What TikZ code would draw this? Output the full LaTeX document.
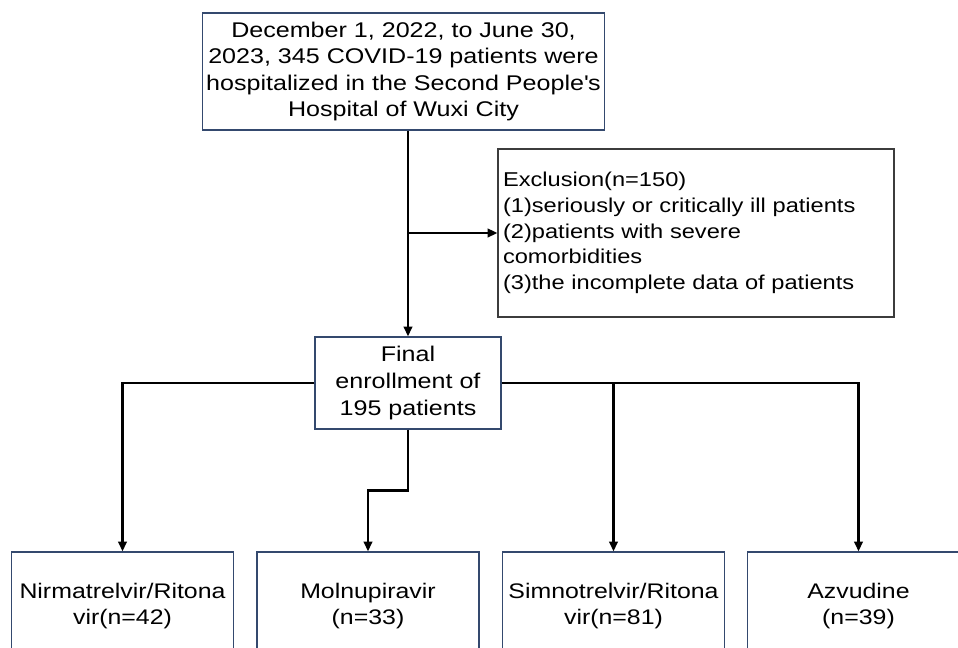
\documentclass[tikz,border=0pt]{standalone}
\usepackage{fontspec}
\setmainfont{Liberation Sans}[FakeStretch=1.18]
\usetikzlibrary{calc}
\usetikzlibrary{arrows.meta}
\definecolor{boxblue}{RGB}{52,73,110}
\definecolor{exgray}{RGB}{60,60,60}

\begin{document}
\begin{tikzpicture}[
		x=0.02cm, y=-0.02cm,
		t/.style = {rectangle, draw=boxblue, line width=0.75pt, align=center, inner sep=2pt, font=\fontsize{12.1}{15.1}\selectfont},
		ex/.style = {rectangle, draw=exgray, line width=0.75pt, align=left, text width=7.72cm, inner xsep=0.1cm, minimum height=3.36cm, font=\fontsize{11.4}{14.7}\selectfont},
		g/.style = {t, minimum width=4.44cm, minimum height=2.16cm, font=\fontsize{12}{14.8}\selectfont},
		r/.style = {-{Triangle[length=5.5pt, width=4.8pt]}, line width=1.6pt}
		]
		\useasboundingbox (0,0) rectangle (958,648);
		\clip (0,0) rectangle (958,648);
		
		%Nodes
		\node[t, minimum width=7.86cm, minimum height=2.34cm]	(top)	at	(403.5, 71.5)	{December 1, 2022, to June 30,\\2023, 345 COVID-19 patients were\\hospitalized in the Second People\textquotesingle s\\Hospital of Wuxi City};
		\node[ex]	(excl)	at	(696, 233)	{Exclusion(n=150)\\(1)seriously or critically ill patients\\(2)patients with severe\\comorbidities\\(3)the incomplete data of patients};
		\node[t, minimum width=3.72cm, minimum height=1.84cm]	(final)	at	(408, 383)	{Final\\enrollment of\\195 patients};
		\node[g]	(nir)	at	(122.5, 606)	{Nirmatrelvir/Ritona\\vir(n=42)};
		\node[g]	(mol)	at	(368, 606)		{Molnupiravir\\(n=33)};
		\node[g]	(sim)	at	(613.5, 606)	{Simnotrelvir/Ritona\\vir(n=81)};
		\node[g]	(azv)	at	(858.5, 606)	{Azvudine\\(n=39)};
		\coordinate	(bend)	at	($(final.south)!.5!(mol.north)$);
		
		%Lines
		\draw[r]	(top.south -| final.north)	--	(final.north);
		\draw[r]	(final.north |- excl.west)	--	(excl.west);
		\draw[r]	(final.west)	-|	(nir.north);
		\draw[r]	(final.south)	|-	(bend)	-|	(mol.north);
		\draw[r]	(final.east -| sim.north)	--	(sim.north);
		\draw[r]	(final.east)	-|	(azv.north);
	\end{tikzpicture}
\end{document}
